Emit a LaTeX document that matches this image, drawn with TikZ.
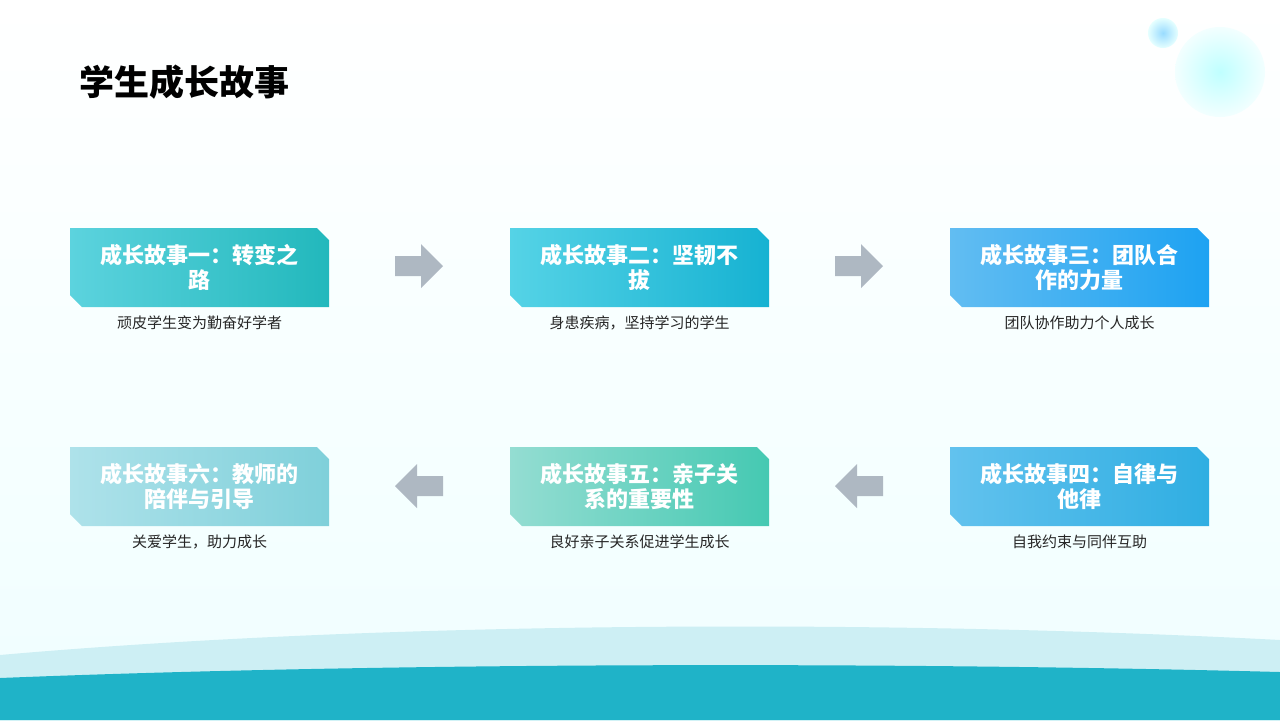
\documentclass[tikz,border=0pt]{standalone}
\usepackage{fontspec}
\setmainfont{Noto Sans CJK SC}
\usetikzlibrary{positioning}
\definecolor{arrowgray}{HTML}{AEB8C2}
\definecolor{wavedark}{HTML}{1FB3C8}
\definecolor{wavelight}{HTML}{CDEFF4}
\definecolor{sa}{HTML}{5CD3DE}\definecolor{sb}{HTML}{22B8BC}
\definecolor{sc}{HTML}{55D3E6}\definecolor{sd}{HTML}{16B2D2}
\definecolor{se}{HTML}{62BDF2}\definecolor{sf}{HTML}{1DA2F2}
\definecolor{sg}{HTML}{62C2EE}\definecolor{sh}{HTML}{2FAEE2}
\definecolor{si}{HTML}{94DDD2}\definecolor{sj}{HTML}{45C9B2}
\definecolor{sk}{HTML}{AEE2EA}\definecolor{sl}{HTML}{7FD0DA}
\newcommand{\storybox}[6]{% name, x, y, left colour, right colour, text
  \shade[left color=#4, right color=#5]
    (#2,#3) -- ++(247,0) -- ++(12,12) -- ++(0,67) -- ++(-247,0) -- ++(-12,-12) -- cycle;
  \node[boxtext] (#1) at ({#2+129.5},{#3+39.5}) {#6};
}
\begin{document}
\begin{tikzpicture}[x=0.5pt,y=-0.5pt,
    boxtext/.style={text=white, font=\bfseries\fontsize{11}{12.5}\selectfont, align=center},
    caption/.style={font=\fontsize{7.5}{9}\selectfont, text=black!85},
    blockarrow/.style={fill=arrowgray}
  ]
  \useasboundingbox (0,0) rectangle (1280,720);
  % background
  \shade[top color=white, bottom color=blue!4!cyan!6] (0,0) rectangle (1280,720);
  \fill[wavelight] (0,655) .. controls (400,620) and (900,620) .. (1280,640) -- (1280,720) -- (0,720) -- cycle;
  \fill[wavedark] (0,678) .. controls (400,662) and (900,662) .. (1280,672) -- (1280,720) -- (0,720) -- cycle;
  \shade[inner color=cyan!25, outer color=cyan!5] (1220,72) circle (45);
  \shade[inner color=blue!35!cyan!40, outer color=cyan!10] (1163,33) circle (15);
  % title
  \node[anchor=west, font=\bfseries\fontsize{17.5}{20}\selectfont] (title) at (72,82) {学生成长故事};
  % first row
  \storybox{s1}{70}{228}{sa}{sb}{成长故事一：转变之\\路}
  \storybox{s2}{510}{228}{sc}{sd}{成长故事二：坚韧不\\拔}
  \storybox{s3}{950}{228}{se}{sf}{成长故事三：团队合\\作的力量}
  % second row
  \storybox{s4}{950}{447}{sg}{sh}{成长故事四：自律与\\他律}
  \storybox{s5}{510}{447}{si}{sj}{成长故事五：亲子关\\系的重要性}
  \storybox{s6}{70}{447}{sk}{sl}{成长故事六：教师的\\陪伴与引导}
  % captions
  \node[caption] (c1) at (199.5,323) {顽皮学生变为勤奋好学者};
  \node[caption] (c2) at (639.5,323) {身患疾病，坚持学习的学生};
  \node[caption] (c3) at (1079.5,323) {团队协作助力个人成长};
  \node[caption] (c4) at (1079.5,542) {自我约束与同伴互助};
  \node[caption] (c5) at (639.5,542) {良好亲子关系促进学生成长};
  \node[caption] (c6) at (199.5,542) {关爱学生，助力成长};
  % arrows
  \foreach \ax/\ay/\dir in {395/266/1, 835/266/1, 443/486/-1, 883/486/-1}{
    \fill[blockarrow] (\ax,\ay-10) -- ++({\dir*26},0) -- ++(0,-12) -- ++({\dir*22},22)
      -- ++({-\dir*22},22) -- ++(0,-12) -- ++({-\dir*26},0) -- cycle;
  }
\end{tikzpicture}
\end{document}
